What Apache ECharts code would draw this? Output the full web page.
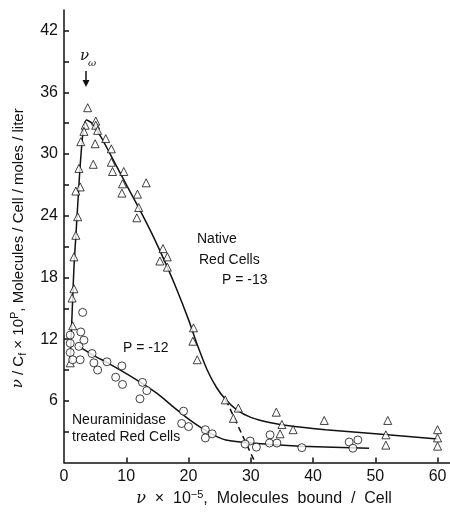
<!DOCTYPE html>
<html>
<head>
<meta charset="utf-8">
<script src="https://cdn.jsdelivr.net/npm/echarts@6/dist/echarts.min.js"></script>
<style>
	html, body { margin: 0; padding: 0; background: #fff; }
	#chart { width: 450px; height: 512px; }
</style>
</head>
<body>
<div id="chart"></div>
<script>
// native red cells, triangles [v x 10^-5, v/Cf]
var nativePts = [
	[3.8, 34.5], [3.4, 32.8], [5.1, 33.2], [5.1, 32.8], [5.4, 32.3], [3.2, 32.2],
	[2.7, 31.2], [5.0, 31.0], [6.7, 31.5], [7.6, 30.5], [4.7, 29.0], [2.4, 28.6],
	[7.6, 29.2], [7.8, 28.3], [9.6, 28.3], [9.4, 27.1], [13.2, 27.2], [2.6, 26.8],
	[1.9, 26.4], [9.3, 26.2], [11.8, 26.1], [12.0, 24.8], [2.2, 23.9], [11.7, 23.8],
	[1.9, 22.1], [15.9, 20.8], [15.4, 19.6], [16.6, 20.0], [16.6, 19.0], [1.6, 20.0],
	[1.6, 16.9], [1.3, 16.0], [1.4, 13.3], [20.8, 13.1], [20.7, 11.8], [21.4, 10.0],
	[1.0, 9.7], [25.9, 6.1], [28.0, 5.3], [27.2, 4.3], [34.1, 4.9], [35.0, 3.7],
	[34.7, 2.8], [36.8, 3.2], [41.8, 4.1], [52.0, 4.1], [51.7, 2.7], [51.7, 1.7],
	[60.0, 3.2], [60.0, 2.4], [60.0, 1.6]
];
// neuraminidase treated red cells, circles
var neurPts = [
	[3.0, 14.6], [1.0, 12.4], [2.7, 12.7], [3.2, 11.9], [1.0, 11.6], [2.4, 11.3],
	[1.0, 10.7], [4.5, 10.6], [1.4, 10.0], [2.6, 10.0], [4.8, 9.7], [6.9, 9.8],
	[5.4, 9.0], [9.3, 9.4], [8.3, 8.3], [9.4, 7.6], [12.6, 7.8], [13.3, 7.0],
	[12.2, 6.2], [19.2, 5.0], [18.9, 3.8], [20.0, 3.5], [22.7, 3.2], [22.7, 2.4],
	[23.8, 2.8], [29.9, 2.1], [29.1, 1.8], [30.9, 1.5], [33.1, 2.7], [33.0, 1.9],
	[34.2, 1.9], [38.2, 1.45], [45.8, 2.0], [47.2, 2.2], [46.4, 1.4]
];
// fitted curves
var nativeFit = [
	[1.0, 10.0], [1.2, 13.0], [1.4, 16.0], [1.6, 19.0], [1.9, 22.0], [2.2, 25.0],
	[2.5, 28.0], [2.8, 30.5], [3.1, 32.3], [3.6, 33.3], [4.5, 33.0], [6.0, 31.6],
	[7.5, 29.9], [9.5, 27.6], [11.8, 25.0], [14.0, 22.4], [16.0, 19.8], [18.0, 17.0],
	[20.0, 13.9], [21.5, 11.3], [23.0, 9.0], [24.5, 7.3], [26.0, 6.1], [27.8, 5.1],
	[30.0, 4.4], [33.0, 3.9], [37.0, 3.5], [42.0, 3.2], [51.0, 2.75], [60.0, 2.3]
];
var nativeDash = [[26.0, 6.1], [30.7, 0]];
var neurFit = [
	[2.4, 11.3], [4.8, 10.4], [7.0, 9.7], [9.6, 8.8], [12.3, 7.8], [15.0, 6.7],
	[17.6, 5.4], [20.3, 4.1], [22.0, 3.4], [24.0, 2.7], [26.0, 2.2], [30.0, 1.9],
	[38.0, 1.6], [49.0, 1.4]
];
var xLabels = [0, 10, 20, 30, 40, 50, 60];
var xTicks = [10, 20, 30, 40, 50, 60];
var yLabels = [6, 12, 18, 24, 30, 36, 42];
var yTicks = [3, 6, 9, 12, 15, 18, 21, 24, 27, 30, 33, 36, 39, 42];

var fam = '"Liberation Sans", Arial, sans-serif';
var ink = '#111';

function txt(x, y, s, size) {
	return {
		type: 'text', left: x, top: y,
		style: { text: s, font: (size || 14) + 'px ' + fam, fill: ink }
	};
}

var chart = echarts.init(document.getElementById('chart'));
chart.setOption({
	animation: false,
	backgroundColor: '#fff',
	grid: { left: 64, right: 0, top: 10, bottom: 46 },
	xAxis: {
		type: 'value', min: 0, max: 62,
		name: '{it|ν}  ×  10{sup|−5},  Molecules  bound  /  Cell',
		nameLocation: 'middle', nameGap: 20,
		nameTextStyle: {
			color: ink, fontFamily: fam, fontSize: 16, padding: [0, 0, 0, 14],
			rich: {
				it: { fontFamily: '"DejaVu Serif", serif', fontStyle: 'italic', fontSize: 16, color: ink },
				sup: { fontSize: 11, verticalAlign: 'top', padding: [0, 0, 8, 0], color: ink, fontFamily: fam }
			}
		},
		axisLine: { lineStyle: { color: ink, width: 1.5 } },
		axisTick: { inside: true, length: 5, customValues: xTicks, lineStyle: { color: ink, width: 1.5 } },
		axisLabel: { customValues: xLabels, color: ink, fontFamily: fam, fontSize: 16, margin: 6 },
		splitLine: { show: false }
	},
	yAxis: {
		type: 'value', min: 0, max: 44,
		name: '{it|ν} / C{sub|f} × 10{sup|P}, Molecules / Cell / moles / liter',
		nameLocation: 'middle', nameRotate: 90, nameGap: 36,
		nameTextStyle: {
			color: ink, fontFamily: fam, fontSize: 15, padding: [0, 24, 0, 0],
			rich: {
				it: { fontFamily: '"DejaVu Serif", serif', fontStyle: 'italic', fontSize: 15, color: ink },
				sub: { fontSize: 11, verticalAlign: 'bottom', color: ink, fontFamily: fam },
				sup: { fontSize: 11, verticalAlign: 'top', padding: [0, 0, 8, 0], color: ink, fontFamily: fam }
			}
		},
		axisLine: { lineStyle: { color: ink, width: 1.5 } },
		axisTick: { inside: true, length: 5, customValues: yTicks, lineStyle: { color: ink, width: 1.5 } },
		axisLabel: { customValues: yLabels, color: ink, fontFamily: fam, fontSize: 16, margin: 6 },
		splitLine: { show: false }
	},
	series: [
		{
			type: 'line', data: nativeFit, smooth: 0.2, symbol: 'none',
			lineStyle: { color: ink, width: 1.5 }, z: 1
		},
		{
			type: 'line', data: nativeDash, symbol: 'none',
			lineStyle: { color: ink, width: 1.5, type: [6, 4] }, z: 1
		},
		{
			type: 'line', data: neurFit, smooth: 0.2, symbol: 'none',
			lineStyle: { color: ink, width: 1.5 }, z: 1
		},
		{
			type: 'scatter', data: nativePts, symbol: 'triangle', symbolSize: [8, 8],
			itemStyle: { color: '#fff', borderColor: ink, borderWidth: 1 }, z: 3
		},
		{
			type: 'scatter', data: neurPts, symbol: 'circle', symbolSize: 8,
			itemStyle: { color: '#fff', borderColor: ink, borderWidth: 1 }, z: 3
		}
	],
	graphic: [
		{
			type: 'text', left: 80, top: 49,
			style: { text: 'ν', font: 'italic 15px "DejaVu Serif", serif', fill: ink }
		},
		{
			type: 'text', left: 88, top: 58,
			style: { text: 'ω', font: 'italic 10px "DejaVu Serif", serif', fill: ink }
		},
		{
			type: 'line', shape: { x1: 86, y1: 71, x2: 86, y2: 84 },
			style: { stroke: ink, lineWidth: 1.5 }
		},
		{
			type: 'polygon', shape: { points: [[82.5, 80], [89.5, 80], [86, 87]] },
			style: { fill: ink }
		},
		txt(197, 232, 'Native', 14),
		txt(199, 253, 'Red Cells', 14),
		txt(222, 273, 'P = -13', 14),
		txt(123, 341, 'P = -12', 14),
		txt(72, 413, 'Neuraminidase', 14),
		txt(72, 430, 'treated Red Cells', 14)
	]
});
</script>
</body>
</html>
